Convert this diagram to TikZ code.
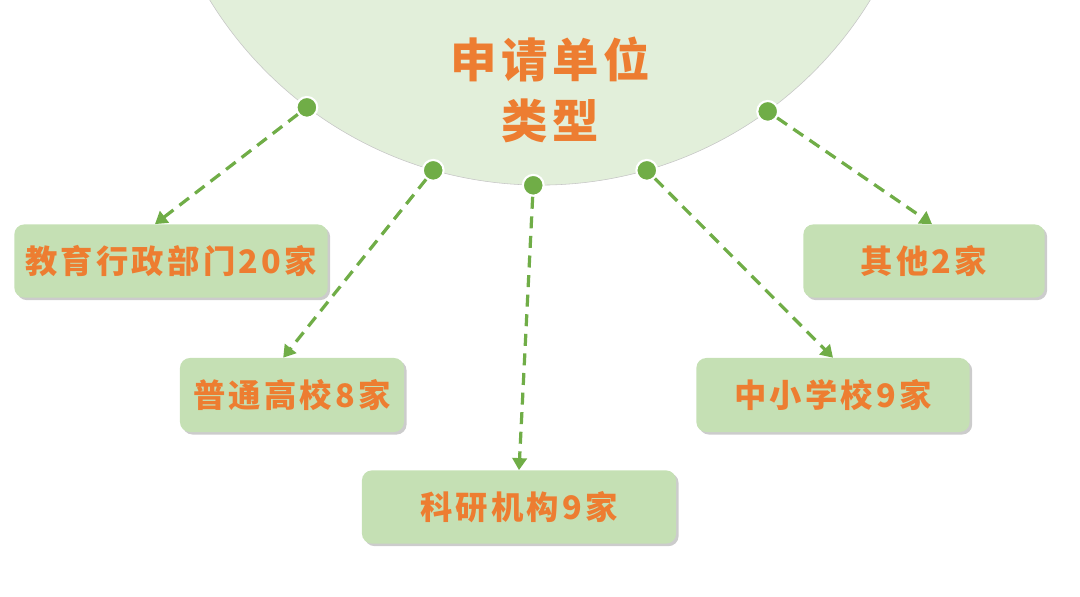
\documentclass[tikz,border=0pt]{standalone}
\usepackage{fontspec}
\usepackage{xcolor}
\usetikzlibrary{arrows.meta, shadows, calc}
\newfontfamily\cjk{Noto Sans CJK SC}[LetterSpace=10]
\definecolor{TypeOrange}{HTML}{ED7D31}
\definecolor{TypeGreen}{HTML}{70AD47}
\definecolor{TypeBoxFill}{HTML}{C5E0B4}
\definecolor{TypeCircleFill}{HTML}{E2EFDA}
\tikzset{
    % Category boxes
    typebox/.style={
        rectangle,
        rounded corners=0.25cm,
        fill=TypeBoxFill,
        draw=none,
        minimum height=1.83cm,
        text centered,
        font=\cjk\bfseries\fontsize{23pt}{27pt}\selectfont,
        text=TypeOrange,
        drop shadow={shadow xshift=1.8pt, shadow yshift=-1.8pt, opacity=0.4}
    },
    % Dots on the circle
    typedot/.style={
        circle,
        fill=TypeGreen,
        draw=white,
        line width=1.5pt,
        minimum size=0.52cm,
        inner sep=0pt
    },
    % Dashed connectors
    typearrow/.style={
        -{Triangle[width=0.36cm,length=0.3cm]},
        TypeGreen,
        line width=2.3pt,
        dash pattern=on 0.3cm off 0.19cm
    }
}
\begin{document}
\begin{tikzpicture}[x=0.025cm, y=-0.025cm]
    \useasboundingbox (0,0) rectangle (1080,597);
    \begin{scope}
        \clip (0,0) rectangle (1080,597);
        % Big circle
        \node[circle, minimum size=19.35cm, inner sep=0pt, fill=TypeCircleFill, draw=gray!45, thin] (circ) at (540,-202) {};
    \end{scope}
    \node[align=center, text=TypeOrange, font=\cjk\bfseries\fontsize{33pt}{43pt}\selectfont] (title) at (550,90) {申请单位\\类型};

    % Dots
    \node[typedot] (d1) at (circ.233.7) {};
    \node[typedot] (d2) at (circ.254.7) {};
    \node[typedot] (d3) at (circ.269.7) {};
    \node[typedot] (d4) at (circ.286.4) {};
    \node[typedot] (d5) at (circ.306.4) {};

    % Boxes
    \node[typebox, minimum width=7.83cm] (edu) at (171,261) {教育行政部门20家};
    \node[typebox, minimum width=5.6cm, minimum height=1.85cm] (univ) at (292,395) {普通高校8家};
    \node[typebox, minimum width=7.85cm] (inst) at (519,507) {科研机构9家};
    \node[typebox, minimum width=6.83cm, minimum height=1.85cm] (school) at (833,395) {中小学校9家};
    \node[typebox, minimum width=6.03cm] (other) at (924,261) {其他2家};

    % Arrows
    \draw[typearrow] (d1) -- ([xshift=-0.4cm]edu.north);
    \draw[typearrow] (d2) -- ([xshift=-0.22cm]univ.north);
    \draw[typearrow] (d3) -- (inst.north);
    \draw[typearrow] (d4) -- (school.north);
    \draw[typearrow] (d5) -- ([xshift=0.2cm]other.north);
\end{tikzpicture}
\end{document}
